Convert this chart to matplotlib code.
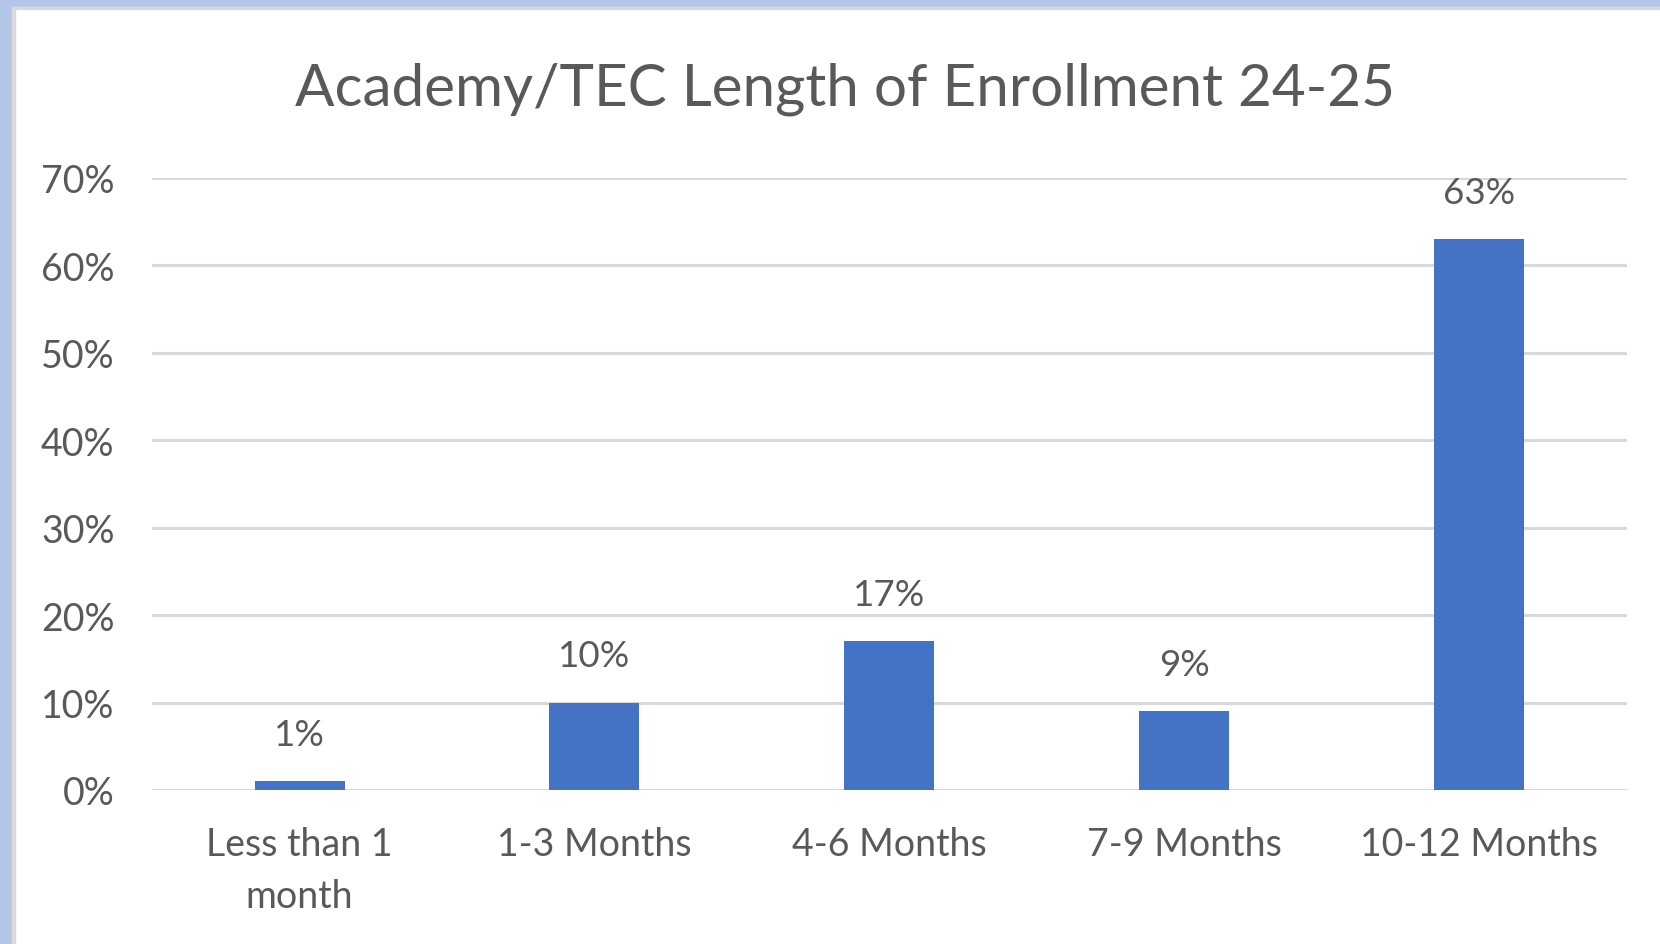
import matplotlib.pyplot as plt
import numpy as np
from matplotlib.patches import Rectangle
from matplotlib.ticker import PercentFormatter

categories = ['Less than 1\nmonth', '1-3 Months', '4-6 Months', '7-9 Months', '10-12 Months']
shares = [1, 10, 17, 9, 63]
y_ticks = [0, 10, 20, 30, 40, 50, 60, 70]

plt.rcParams['font.family'] = ['Lato', 'DejaVu Sans']
grey = '#595959'

fig = plt.figure(figsize=(16.6, 9.45), dpi=100)
ax = fig.add_axes([0.0916, 0.163, 0.8884, 0.6476])

x = np.arange(len(categories))
bars = ax.bar(x, shares, width=0.305, color='#4472C4', zorder=3)
ax.bar_label(bars, labels=[f'{v}%' for v in shares], padding=22,
             fontsize=26.5, color=grey)

ax.set_xlim(-0.5, len(categories) - 0.5)
ax.set_ylim(0, 70)
ax.set_yticks(y_ticks)
ax.yaxis.set_major_formatter(PercentFormatter(decimals=0))
ax.set_xticks(x)
ax.set_xticklabels(categories, linespacing=1.55)
ax.tick_params(axis='both', length=0, labelsize=27, labelcolor=grey)
ax.tick_params(axis='x', pad=26)
ax.tick_params(axis='y', pad=27)
ax.grid(axis='y', color='#D9D9D9', linewidth=2.2, zorder=0)
for s in ax.spines.values():
    s.set_visible(False)

fig.suptitle('Academy/TEC Length of Enrollment 24-25', x=0.509, y=0.934,
             fontsize=42, color=grey)

# light blue frame on top and left edges
fig.patches.append(Rectangle((0, 1 - 8 / 945), 1, 8 / 945, transform=fig.transFigure,
                             color='#B4C6E7', zorder=0))
fig.patches.append(Rectangle((0, 1 - 10 / 945), 1, 2 / 945, transform=fig.transFigure,
                             color='#D9D9D9', zorder=0))
fig.patches.append(Rectangle((0, 0), 12 / 1660, 1, transform=fig.transFigure,
                             color='#B4C6E7', zorder=0))
fig.patches.append(Rectangle((12 / 1660, 0), 3 / 1660, 1 - 8 / 945, transform=fig.transFigure,
                             color='#D9D9D9', zorder=0))

fig.savefig('out.png', dpi=100)
